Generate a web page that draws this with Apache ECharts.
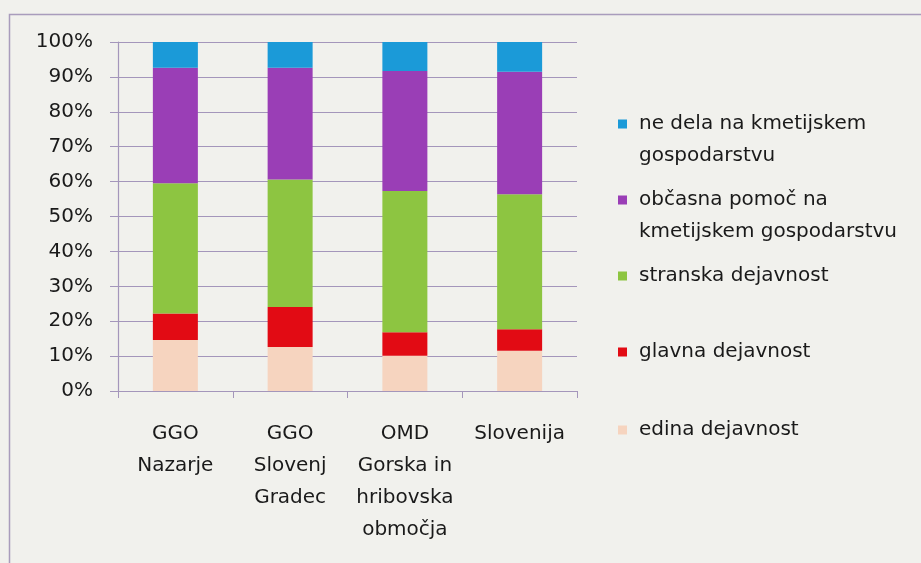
<!DOCTYPE html>
<html>
<head>
<meta charset="utf-8">
<script src="https://cdn.jsdelivr.net/npm/echarts@6/dist/echarts.min.js"></script>
<style>
  html, body { margin: 0; padding: 0; background: #f1f1ed; }
  #chart { width: 921px; height: 563px; }
</style>
</head>
<body>
<div id="chart"></div>
<script>
const categories = ['GGO\nNazarje', 'GGO\nSlovenj\nGradec', 'OMD\nGorska in\nhribovska\nobmočja', 'Slovenija'];
const edina = [14.6, 12.6, 10.1, 11.5];
const glavna = [7.6, 11.5, 6.7, 6.2];
const stranska = [37.3, 36.5, 40.5, 38.7];
const obcasna = [33.1, 32.0, 34.4, 35.1];
const neDela = [7.4, 7.4, 8.3, 8.5];
const seriesNames = ['edina dejavnost', 'glavna dejavnost', 'stranska dejavnost', 'občasna pomoč na\nkmetijskem gospodarstvu', 'ne dela na kmetijskem\ngospodarstvu'];
const seriesData = [edina, glavna, stranska, obcasna, neDela];
const colors = ['#f6d4bf', '#e20b14', '#8dc541', '#9a3eb6', '#1b9ad8'];

const FONT = 'DejaVu Sans';
const gridCol = '#a496bb';
const LH = 32;

const chart = echarts.init(document.getElementById('chart'), null, { renderer: 'canvas' });

// legend icon centre y, top-down: ne dela, občasna, stranska, glavna, edina
const legendCenters = [124, 200, 276, 352, 430];
const legendOrder = [4, 3, 2, 1, 0];
const legends = legendOrder.map((si, k) => {
  const twoLine = seriesNames[si].indexOf('\n') >= 0;
  return {
    left: 618,
    top: legendCenters[k] - LH / 2,
    orient: 'vertical',
    padding: 0,
    itemWidth: 9,
    itemHeight: twoLine ? 9 + LH : 9,
    itemGap: 0,
    icon: twoLine ? 'path://M0,0H9V9H0Z M4,40.95H4.05V41H4Z' : 'rect',
    selectedMode: false,
    data: [seriesNames[si]],
    textStyle: {
      fontFamily: FONT,
      fontSize: 20,
      color: '#1a1a1a',
      lineHeight: LH,
      padding: [0, 0, 0, 7]
    }
  };
});

chart.setOption({
  animation: false,
  backgroundColor: 'transparent',
  color: colors,
  graphic: [{
    type: 'rect',
    shape: { x: 9.5, y: 14.5, width: 1200, height: 1200 },
    style: { fill: 'none', stroke: '#a99cbc', lineWidth: 1.5 },
    silent: true
  }],
  grid: { left: 118, right: 344, top: 42, bottom: 172 },
  legend: legends,
  xAxis: {
    type: 'category',
    data: categories,
    axisLine: { lineStyle: { color: gridCol, width: 1.2 } },
    axisTick: { show: true, length: 7, alignWithLabel: false, lineStyle: { color: gridCol } },
    axisLabel: { fontFamily: FONT, fontSize: 20, color: '#1a1a1a', lineHeight: LH, margin: 27, interval: 0 }
  },
  yAxis: {
    type: 'value',
    min: 0, max: 100, interval: 10,
    axisLine: { show: true, lineStyle: { color: gridCol, width: 1.2 } },
    axisTick: { show: true, length: 8, lineStyle: { color: gridCol } },
    axisLabel: { fontFamily: FONT, fontSize: 20, color: '#1a1a1a', margin: 25, formatter: '{value}%' },
    splitLine: { lineStyle: { color: gridCol, width: 1.2 } }
  },
  series: seriesNames.map((n, i) => ({
    name: n,
    type: 'bar',
    stack: 'total',
    barWidth: 45,
    data: seriesData[i],
    itemStyle: { color: colors[i] }
  }))
});
</script>
</body>
</html>
